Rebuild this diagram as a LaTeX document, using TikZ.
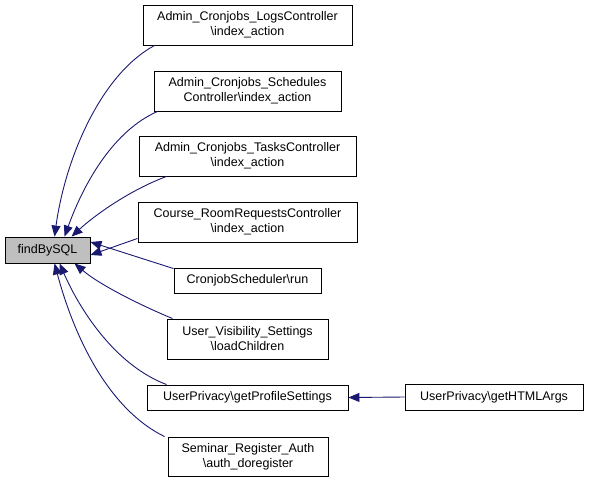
\documentclass[tikz,border=0pt]{standalone}
\usepackage{fontspec}
\setmainfont{Liberation Sans}
\usetikzlibrary{arrows.meta}
\definecolor{edgeblue}{RGB}{25,25,112}
\definecolor{focusgray}{RGB}{191,191,191}
\tikzset{
  box/.style={draw=black, fill=white, line width=0.9pt, inner sep=0pt, align=center,
    font=\fontsize{12.5}{15}\selectfont},
  arr/.style={draw=edgeblue, line width=0.9pt, -{Triangle[length=11pt,width=9pt]}}
}
\begin{document}
\begin{tikzpicture}[x=1pt,y=-1pt]
\useasboundingbox (0,0) rectangle (589,483);
\node[box, fill=focusgray, minimum width=85pt, minimum height=26pt] (f) at (47.5,250) {findBySQL};
\node[box, minimum width=209pt, minimum height=40pt] (n1) at (247.5,25) {Admin\_Cronjobs\_LogsController\\\textbackslash index\_action};
\node[box, minimum width=187pt, minimum height=40pt] (n2) at (247.5,91) {Admin\_Cronjobs\_Schedules\\Controller\textbackslash index\_action};
\node[box, minimum width=217pt, minimum height=40pt] (n3) at (247.5,156) {Admin\_Cronjobs\_TasksController\\\textbackslash index\_action};
\node[box, minimum width=219pt, minimum height=40pt] (n4) at (247.5,222) {Course\_RoomRequestsController\\\textbackslash index\_action};
\node[box, minimum width=147pt, minimum height=25pt] (n5) at (247.5,280.5) {CronjobScheduler\textbackslash run};
\node[box, minimum width=161pt, minimum height=40pt] (n6) at (247.5,339) {User\_Visibility\_Settings\\\textbackslash loadChildren};
\node[box, minimum width=201pt, minimum height=25pt] (n7) at (247.5,397.5) {UserPrivacy\textbackslash getProfileSettings};
\node[box, minimum width=160pt, minimum height=39pt] (n8) at (248,456.5) {Seminar\_Register\_Auth\\\textbackslash auth\_doregister};
\node[box, minimum width=178pt, minimum height=26pt] (n9) at (494,397) {UserPrivacy\textbackslash getHTMLArgs};

\draw[arr] ([xshift=12pt]n1.south west) .. controls (100,75) and (65,160) .. ([xshift=50pt]f.north west);
\draw[arr] ([xshift=4pt]n2.south west) .. controls (115,130) and (85,180) .. ([xshift=60pt]f.north west);
\draw[arr] ([xshift=28pt]n3.south west) .. controls (130,190) and (95,215) .. ([xshift=67pt]f.north west);
\draw[arr] ([yshift=4pt]n4.south west) -- ([yshift=-5pt]f.east);
\draw[arr] ([yshift=-1pt]n5.north west) -- ([yshift=8pt]f.east);
\draw[arr] ([xshift=6pt]n6.north west) .. controls (140,305) and (100,285) .. ([xshift=70pt]f.south west);
\draw[arr] ([xshift=20pt]n7.north west) .. controls (115,365) and (80,310) .. ([xshift=55pt]f.south west);
\draw[arr] ([xshift=-3pt]n8.north west) .. controls (110,410) and (75,340) .. ([xshift=50pt]f.south west);
\draw[arr] (n9.west) -- (n7.east);
\end{tikzpicture}
\end{document}
